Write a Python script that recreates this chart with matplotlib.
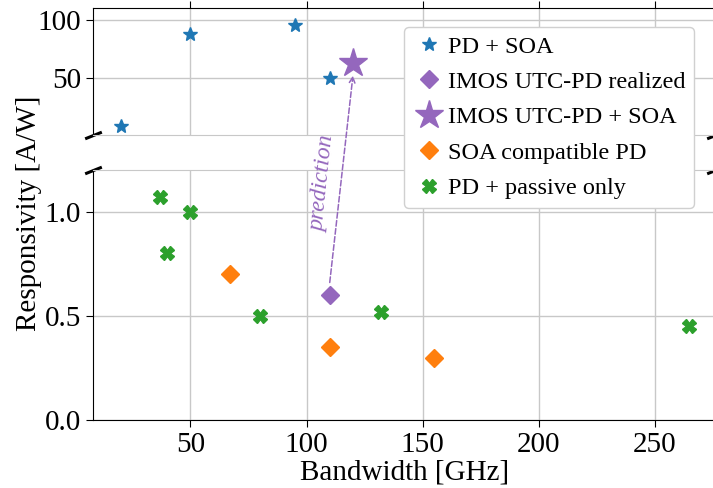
import numpy as np
import matplotlib
matplotlib.use("Agg")
import matplotlib.pyplot as plt
from matplotlib.patches import ConnectionPatch

plt.rcParams['font.family'] = ['Liberation Serif', 'DejaVu Serif']
plt.rcParams['mathtext.fontset'] = 'stix'

# data
pd_soa_bw = [20, 50, 95, 110]
pd_soa_resp = [8.5, 88, 95, 50]

imos_bw = [110]
imos_resp = [0.6]

imos_soa_bw = [120]
imos_soa_resp = [63]

soa_pd_bw = [67, 110, 155]
soa_pd_resp = [0.7, 0.35, 0.3]

passive_bw = [37, 40, 50, 80, 132, 265]
passive_resp = [1.07, 0.8, 1.0, 0.5, 0.52, 0.45]

xticks = [50, 100, 150, 200, 250]
grid_col = '#c8c8c8'

fig = plt.figure(figsize=(7.13, 4.88), dpi=100)
ax1 = fig.add_axes([93/713, 1-135/488, 622/713, 127/488])
ax2 = fig.add_axes([93/713, 1-420/488, 622/713, 250/488])

for ax in (ax1, ax2):
    ax.set_xlim(8, 276)
    ax.set_xticks(xticks)
    ax.grid(True, color=grid_col, lw=1)
    ax.set_axisbelow(True)
    ax.tick_params(labelsize=21, length=5)
    ax.spines['right'].set_visible(False)

ax1.set_ylim(1, 110)
ax1.set_yticks([50, 100])
ax2.set_ylim(0, 1.2)
ax2.set_yticks([0.0, 0.5, 1.0])
ax2.set_yticklabels(['0.0', '0.5', '1.0'])

ax1.spines['bottom'].set_color(grid_col)
ax2.spines['top'].set_color(grid_col)
ax1.xaxis.tick_top()
ax1.tick_params(labeltop=False)
ax2.xaxis.tick_bottom()

h1, = ax1.plot(pd_soa_bw, pd_soa_resp, '*', color='tab:blue', ms=10, ls='none', label='PD + SOA')
h2, = ax2.plot(imos_bw, imos_resp, 'D', color='tab:purple', ms=9, ls='none', label='IMOS UTC-PD realized')
h3, = ax1.plot(imos_soa_bw, imos_soa_resp, '*', color='tab:purple', ms=21, ls='none', label='IMOS UTC-PD + SOA')
h4, = ax2.plot(soa_pd_bw, soa_pd_resp, 'D', color='tab:orange', ms=9, ls='none', label='SOA compatible PD')
h5, = ax2.plot(passive_bw, passive_resp, 'X', color='tab:green', ms=10, ls='none', label='PD + passive only')

# break marks
d = 0.4
kw = dict(marker=[(-1, -d), (1, d)], markersize=12, linestyle='none',
          color='k', mec='k', mew=2.2, clip_on=False)
ax1.plot([0, 1], [0, 0], transform=ax1.transAxes, **kw)
ax2.plot([0, 1], [1, 1], transform=ax2.transAxes, **kw)

# prediction arrow
con = ConnectionPatch(xyA=(110, 0.66), coordsA=ax2.transData,
                      xyB=(120, 52), coordsB=ax1.transData,
                      arrowstyle='->', linestyle='--', color='tab:purple',
                      lw=1.1, mutation_scale=10)
fig.add_artist(con)
ax2.text(107, 1.135, 'prediction', rotation=84, color='tab:purple',
         fontsize=17, style='italic', ha='center', va='center', clip_on=False)

fig.legend(handles=[h1, h2, h3, h4, h5], loc='upper right',
           bbox_to_anchor=(694/713, 1-27/488), fontsize=17.5,
           handletextpad=0.15, borderpad=0.35, labelspacing=0.55,
           handlelength=1.3, borderaxespad=0, framealpha=1,
           edgecolor='#d0d0d0')

fig.text(405/713, 0.006, 'Bandwidth [GHz]', fontsize=21, ha='center', va='bottom')
fig.text(29/713, 1-213/488, 'Responsivity [A/W]', fontsize=21, rotation=90,
         ha='center', va='center')

fig.savefig('out.png', dpi=100)
